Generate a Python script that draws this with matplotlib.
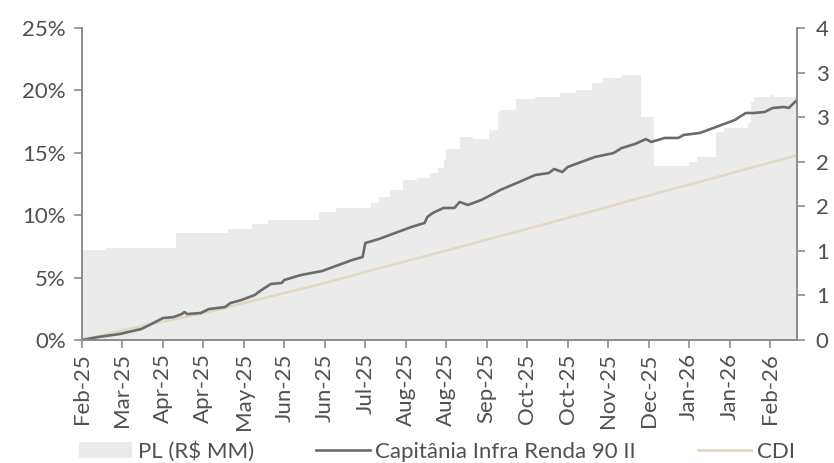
import math
import matplotlib
matplotlib.use('Agg')
import matplotlib.pyplot as plt
from matplotlib.ticker import PercentFormatter, FuncFormatter, MultipleLocator
from matplotlib.patches import Patch
from matplotlib.lines import Line2D

plt.rcParams['font.family'] = ['Lato', 'DejaVu Sans']

# rotulos do eixo x (um a cada 15 dias uteis)
rotulos = ['Feb-25', 'Mar-25', 'Apr-25', 'Apr-25', 'May-25', 'Jun-25', 'Jun-25',
           'Jul-25', 'Aug-25', 'Aug-25', 'Sep-25', 'Oct-25', 'Oct-25', 'Nov-25',
           'Dec-25', 'Jan-26', 'Jan-26', 'Feb-26']
passo_rotulo = 15
ultimo_dia = 265

# PL do fundo (eixo direito), em degraus
dias_pl = [0, 9, 35, 54, 63, 69, 88, 94, 107, 110, 114, 119, 124, 129, 132, 134,
           135, 140, 145, 151, 154, 155, 160, 161, 168, 177, 183, 189, 193, 200,
           207, 212, 225, 228, 235, 238, 247, 248, 249, 255, 256, 265]
pl = [1.01, 1.03, 1.20, 1.245, 1.30, 1.35, 1.44, 1.48, 1.54, 1.60, 1.68, 1.80,
      1.82, 1.87, 1.93, 2.02, 2.14, 2.28, 2.25, 2.36, 2.56, 2.58, 2.59, 2.70,
      2.73, 2.77, 2.80, 2.88, 2.94, 2.97, 2.50, 1.95, 2.00, 2.05, 2.33, 2.38,
      2.43, 2.67, 2.73, 2.75, 2.73, 2.73]

# rentabilidade acumulada do fundo (%)
dias_fundo = [0, 6, 14, 22, 25, 30, 34, 37, 38, 39, 44, 47, 53, 55, 59, 64, 66,
              70, 74, 75, 81, 89, 95, 100, 104, 105, 110, 117, 122, 127, 128, 130,
              134, 138, 140, 143, 148, 153, 155, 162, 168, 173, 175, 178, 180, 185,
              190, 197, 200, 205, 209, 211, 216, 221, 223, 229, 232, 237, 242, 246,
              249, 253, 256, 260, 262, 265]
fundo = [0.0, 0.24, 0.48, 0.88, 1.2, 1.76, 1.84, 2.08, 2.24, 2.08, 2.16, 2.48,
         2.64, 2.96, 3.2, 3.6, 3.93, 4.49, 4.57, 4.81, 5.2, 5.53, 6.0, 6.4, 6.65,
         7.77, 8.09, 8.65, 9.05, 9.38, 9.86, 10.18, 10.58, 10.58, 11.06, 10.82,
         11.22, 11.78, 12.02, 12.66, 13.22, 13.38, 13.7, 13.46, 13.86, 14.26,
         14.66, 14.98, 15.38, 15.71, 16.1, 15.87, 16.19, 16.19, 16.43, 16.59,
         16.83, 17.23, 17.63, 18.19, 18.19, 18.27, 18.59, 18.67, 18.6, 19.23]

# CDI acumulado (%)
dias_cdi = [0, 25, 44, 70, 88, 105, 118, 134, 145, 171, 193, 207, 237, 265]
cdi = [0.0, 1.25, 2.1, 3.5, 4.45, 5.45, 6.2, 7.1, 7.75, 9.25, 10.55, 11.4,
       13.15, 14.8]

cor_texto = '#505050'
cor_eixo = '#8C8C8C'

fig = plt.figure(figsize=(8.34, 4.63), dpi=100)
ax = fig.add_axes([82 / 834, 1 - 340 / 463, (797 - 82) / 834, (340 - 28) / 463])
ax2 = ax.twinx()

# area do PL atras das linhas
ax2.fill_between(dias_pl, pl, step='post', color='#EBEBEB', linewidth=0)
ax2.set_ylim(0, 3.5)
ax2.yaxis.set_major_locator(MultipleLocator(0.5))
ax2.yaxis.set_major_formatter(FuncFormatter(lambda v, p: str(int(math.floor(v + 0.5 + 1e-9)))))

ax.set_zorder(ax2.get_zorder() + 1)
ax.patch.set_visible(False)

ax.plot(dias_cdi, cdi, color='#E0D8C2', linewidth=1.9)
ax.plot(dias_fundo, fundo, color='#6B6B6B', linewidth=1.9)

ax.set_xlim(0, ultimo_dia)
ax.set_ylim(0, 25)
ax.yaxis.set_major_locator(MultipleLocator(5))
ax.yaxis.set_major_formatter(PercentFormatter(decimals=0))
ax.set_xticks(range(0, passo_rotulo * len(rotulos), passo_rotulo))
ax.set_xticklabels(rotulos, rotation=90)

for a in (ax, ax2):
    a.spines['top'].set_visible(False)
    for s in ('left', 'right', 'bottom'):
        a.spines[s].set_color(cor_eixo)
        a.spines[s].set_linewidth(1.2)
    a.tick_params(colors=cor_eixo, labelcolor=cor_texto, labelsize=16,
                  length=5.5, width=1.2)
ax.tick_params(axis='y', pad=6)
ax2.tick_params(axis='y', pad=8)
ax.tick_params(axis='x', pad=4)

handles = [Patch(facecolor='#EBEBEB', edgecolor='none'),
           Line2D([], [], color='#6B6B6B', linewidth=1.9),
           Line2D([], [], color='#E0D8C2', linewidth=1.9)]
labels = ['PL (R$ MM)', 'Capitânia Infra Renda 90 II', 'CDI']
leg = fig.legend(handles, labels, loc='center', bbox_to_anchor=(0.524, 0.025),
                 ncol=3, frameon=False, fontsize=16, handlelength=2.4,
                 handletextpad=0.25, columnspacing=2.8, borderpad=0)
for t in leg.get_texts():
    t.set_color(cor_texto)

fig.savefig('out.png', dpi=100)
